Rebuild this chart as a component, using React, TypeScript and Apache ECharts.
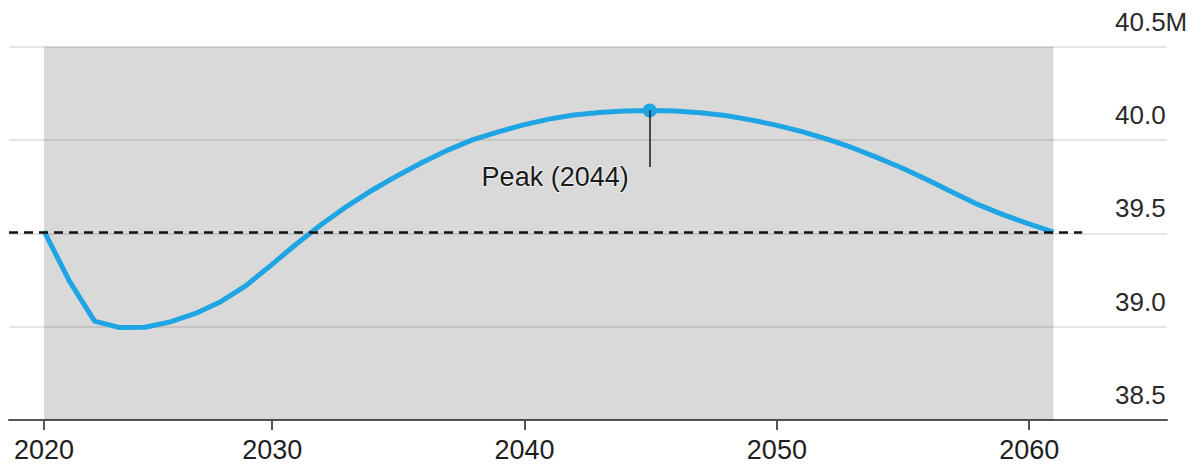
import { useEffect, useRef } from "react";
import * as echarts from "echarts";

// Projected population (millions), one reading per year
const years = [
  2020, 2021, 2022, 2023, 2024, 2025, 2026, 2027, 2028, 2029,
  2030, 2031, 2032, 2033, 2034, 2035, 2036, 2037, 2038, 2039,
  2040, 2041, 2042, 2043, 2044, 2045, 2046, 2047, 2048, 2049,
  2050, 2051, 2052, 2053, 2054, 2055, 2056, 2057, 2058, 2059,
  2060,
];
const population = [
  39.512, 39.245, 39.03, 38.995, 38.997, 39.026, 39.071, 39.134, 39.22, 39.33,
  39.443, 39.549, 39.645, 39.731, 39.809, 39.881, 39.946, 40.002, 40.044, 40.081,
  40.112, 40.134, 40.148, 40.155, 40.158, 40.155, 40.146, 40.131, 40.108, 40.08,
  40.046, 40.006, 39.96, 39.907, 39.85, 39.787, 39.72, 39.655, 39.6, 39.552,
  39.507,
];
const peakYear = 2044;
const referenceLevel = 39.505;
const decadeTicks = [2030, 2040, 2050, 2060];
const yMin = 38.5;
const yMax = 40.5;
const yStep = 0.5;

// Readings are taken in December, so each point sits at the end of its year
const atYearEnd = (y: number) => y + 0.96;

const X_MIN = 2019.57;
const X_MAX = 2065.46;
const DASH_END = 2062.1;
const LEADER_END = 39.855;

const BLUE = "#1fa4e4";
const FONT = "'Liberation Sans', Arial, Helvetica, sans-serif";

export default function App() {
  const ref = useRef<HTMLDivElement>(null);

  useEffect(() => {
    if (!ref.current) return;
    const chart = echarts.init(ref.current, undefined, { renderer: "svg" });

    const lineData = years.map((y, i) => [atYearEnd(y), population[i]]);
    const peakIdx = years.indexOf(peakYear);
    const peakPoint = [atYearEnd(peakYear), population[peakIdx]];
    const xTickValues = [atYearEnd(years[0]), ...decadeTicks];

    chart.setOption({
      animation: false,
      textStyle: { fontFamily: FONT },
      grid: { left: 9, right: 33, top: 46.7, bottom: 50 },
      xAxis: {
        type: "value",
        min: X_MIN,
        max: X_MAX,
        axisLine: { show: true, onZero: false, lineStyle: { color: "#555", width: 2 } },
        axisTick: {
          show: true,
          customValues: xTickValues,
          length: 10,
          lineStyle: { color: "#555", width: 2 },
        },
        axisLabel: {
          customValues: xTickValues,
          formatter: (v: number) => String(Math.floor(v + 1e-6)),
          fontSize: 27,
          color: "#1e1e1e",
          fontFamily: FONT,
          margin: 16,
        },
        splitLine: { show: false },
      },
      yAxis: {
        type: "value",
        position: "right",
        min: yMin,
        max: yMax,
        interval: yStep,
        axisLine: { show: false },
        axisTick: { show: false },
        splitLine: { show: true, lineStyle: { color: "rgba(0,0,0,0.1)", width: 2 } },
        axisLabel: {
          inside: true,
          align: "left",
          verticalAlign: "bottom",
          margin: 52,
          padding: [0, 0, 12, 0],
          fontSize: 26,
          color: "#2a2a2a",
          fontFamily: FONT,
          showMinLabel: true,
          showMaxLabel: true,
          formatter: (v: number) => (Math.abs(v - yMax) < 1e-9 ? `${v.toFixed(1)}M` : v.toFixed(1)),
        },
      },
      series: [
        {
          // shaded projection window (translucent so the gridlines show through)
          type: "line",
          data: [],
          z: 0,
          silent: true,
          markArea: {
            silent: true,
            itemStyle: { color: "rgba(0,0,0,0.15)" },
            data: [
              [
                { coord: [atYearEnd(years[0]), yMin] },
                { coord: [atYearEnd(years[years.length - 1]), yMax] },
              ],
            ],
          },
        },
        {
          // dashed reference level and the peak leader line
          type: "line",
          data: [],
          z: 2,
          silent: true,
          markLine: {
            silent: true,
            symbol: ["none", "none"],
            label: { show: false },
            data: [
              [
                {
                  coord: [X_MIN, referenceLevel],
                  lineStyle: { type: [9, 6], color: "#111", width: 2.5 },
                },
                { coord: [DASH_END, referenceLevel] },
              ],
              [
                {
                  coord: [peakPoint[0], peakPoint[1]],
                  lineStyle: { type: "solid", color: "#1a1a1a", width: 1.5 },
                },
                { coord: [peakPoint[0], LEADER_END] },
              ],
            ],
          },
        },
        {
          type: "line",
          data: lineData,
          z: 3,
          smooth: false,
          showSymbol: false,
          lineStyle: { color: BLUE, width: 5 },
        },
        {
          type: "scatter",
          data: [peakPoint],
          z: 4,
          symbolSize: 14,
          itemStyle: { color: BLUE, opacity: 1 },
          label: {
            show: true,
            position: "left",
            distance: 14,
            offset: [0, 66],
            formatter: `Peak (${peakYear})`,
            fontSize: 27,
            color: "#1a1a1a",
            fontFamily: FONT,
            textBorderColor: "rgba(255,255,255,0.6)",
            textBorderWidth: 2,
          },
        },
      ],
    });

    return () => chart.dispose();
  }, []);

  return (
    <div
      ref={ref}
      style={{ position: "fixed", left: 0, top: 0, width: 1200, height: 470, background: "#fff" }}
    />
  );
}
